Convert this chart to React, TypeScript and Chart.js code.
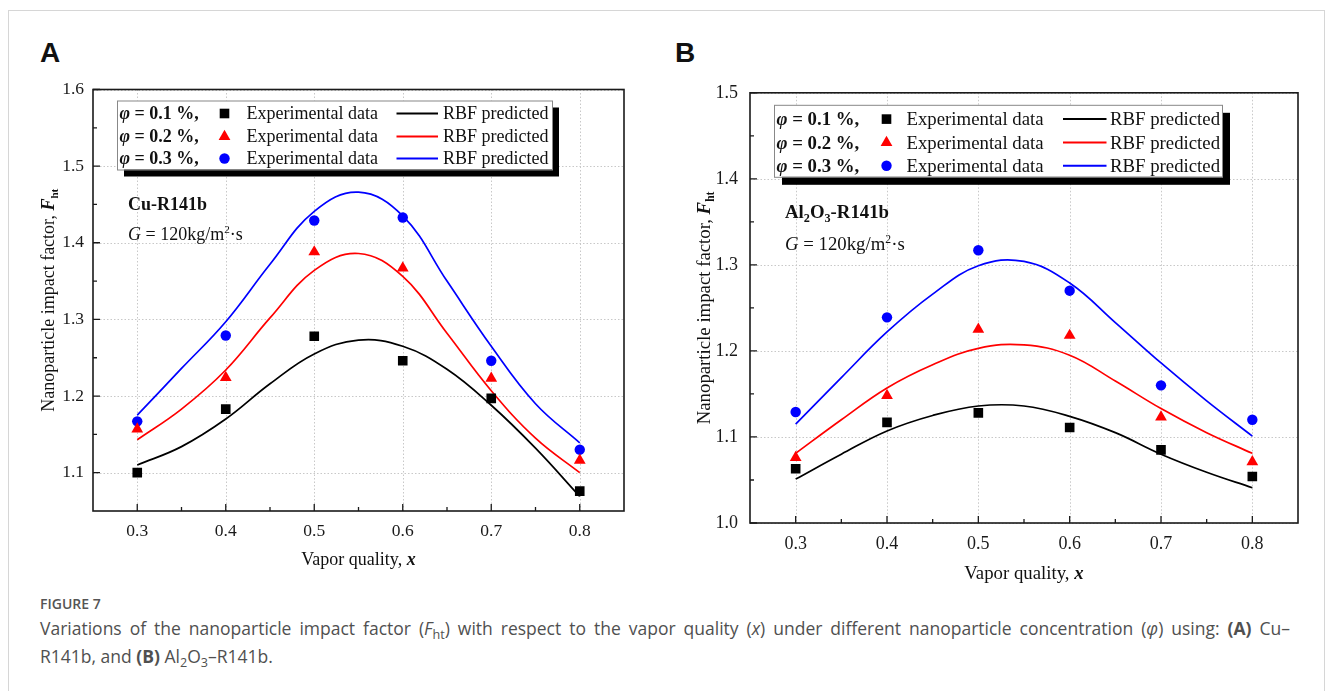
import React, { useEffect, useRef } from 'react';
import { Chart, registerables } from 'chart.js';

Chart.register(...registerables);

const SERIF = '"Liberation Serif", "Times New Roman", serif';

// ---------------- data ----------------
const expX = [0.3, 0.4, 0.5, 0.6, 0.7, 0.8];
const rbfX = [0.3, 0.35, 0.4, 0.45, 0.5, 0.55, 0.6, 0.65, 0.7, 0.75, 0.8];

const phiLabels = ['0.1', '0.2', '0.3'];
const seriesColors = ['#000000', '#ff0000', '#0000ff'];
const markerStyles = ['rect', 'triangle', 'circle'];
const markerRadius = [6.8, 6.8, 5.2];

// Panel A: Cu-R141b
const expA01 = [1.100, 1.183, 1.278, 1.246, 1.197, 1.076];
const expA02 = [1.157, 1.224, 1.388, 1.367, 1.223, 1.116];
const expA03 = [1.167, 1.279, 1.429, 1.433, 1.246, 1.130];
const rbfA01 = [1.110, 1.134, 1.170, 1.216, 1.255, 1.273, 1.265, 1.235, 1.188, 1.132, 1.069];
const rbfA02 = [1.143, 1.183, 1.234, 1.302, 1.364, 1.386, 1.356, 1.282, 1.207, 1.145, 1.100];
const rbfA03 = [1.175, 1.236, 1.297, 1.372, 1.441, 1.466, 1.435, 1.350, 1.265, 1.190, 1.139];

// Panel B: Al2O3-R141b
const expB01 = [1.063, 1.117, 1.128, 1.111, 1.085, 1.054];
const expB02 = [1.076, 1.148, 1.225, 1.218, 1.123, 1.071];
const expB03 = [1.129, 1.239, 1.317, 1.270, 1.160, 1.120];
const rbfB01 = [1.051, 1.080, 1.107, 1.125, 1.136, 1.136, 1.124, 1.105, 1.080, 1.059, 1.041];
const rbfB02 = [1.081, 1.120, 1.157, 1.184, 1.203, 1.207, 1.195, 1.165, 1.133, 1.105, 1.081];
const rbfB03 = [1.115, 1.169, 1.222, 1.266, 1.299, 1.304, 1.279, 1.233, 1.186, 1.142, 1.101];

// ticks
const xTickValues = [0.3, 0.4, 0.5, 0.6, 0.7, 0.8];
const xTickLabels = ['0.3', '0.4', '0.5', '0.6', '0.7', '0.8'];
const xMinorTicks = [0.35, 0.45, 0.55, 0.65, 0.75];
const yTicksA = [1.1, 1.2, 1.3, 1.4, 1.5, 1.6];
const yTickLabelsA = ['1.1', '1.2', '1.3', '1.4', '1.5', '1.6'];
const yMinorA = [1.15, 1.25, 1.35, 1.45, 1.55];
const yTicksB = [1.0, 1.1, 1.2, 1.3, 1.4, 1.5];
const yTickLabelsB = ['1.0', '1.1', '1.2', '1.3', '1.4', '1.5'];
const yMinorB = [1.05, 1.15, 1.25, 1.35, 1.45];

// ---------------- rich text helpers ----------------
type Seg = { t: string; f: string; dy?: number };

function richWidth(ctx: CanvasRenderingContext2D, segs: Seg[]) {
  let w = 0;
  for (const s of segs) {
    ctx.font = s.f;
    w += ctx.measureText(s.t).width;
  }
  return w;
}

function drawRich(ctx: CanvasRenderingContext2D, segs: Seg[], x: number, y: number, align = 'left') {
  const w = richWidth(ctx, segs);
  let cx = align === 'center' ? x - w / 2 : x;
  ctx.textBaseline = 'alphabetic';
  ctx.textAlign = 'left';
  for (const s of segs) {
    ctx.font = s.f;
    ctx.fillText(s.t, cx, y + (s.dy || 0));
    cx += ctx.measureText(s.t).width;
  }
}

function drawMarker(ctx: CanvasRenderingContext2D, style: string, x: number, y: number, r: number, color: string) {
  ctx.fillStyle = color;
  ctx.beginPath();
  if (style === 'rect') {
    const h = r * Math.SQRT1_2;
    ctx.rect(x - h, y - h, 2 * h, 2 * h);
  } else if (style === 'triangle') {
    for (let k = 0; k < 3; k++) {
      const a = (k * 2 * Math.PI) / 3;
      const px = x + Math.sin(a) * r;
      const py = y - Math.cos(a) * r;
      if (k === 0) ctx.moveTo(px, py);
      else ctx.lineTo(px, py);
    }
    ctx.closePath();
  } else {
    ctx.arc(x, y, r, 0, Math.PI * 2);
  }
  ctx.fill();
}

// ---------------- panels ----------------
type PanelCfg = {
  left: number; top: number; w: number; h: number;
  yAxisW: number; padRight: number; padTop: number; xAxisH: number;
  yMin: number; yMax: number; yTicks: number[]; yTickLabels: string[]; yMinor: number[];
  exp: number[][]; rbf: number[][];
  tickSize: number; xPad: number; yPad: number; fs: number;
  legend: { dx: number; dy: number; w: number; h: number; shadow: number; rows: number[]; phi: number; marker: number; expText: number; lineA: number; lineB: number; rbfText: number };
  fluid: (fs: number) => Seg[];
  fluidPos: [number, number];
  gPos: [number, number];
  yTitleDx: number;
  xTitleDy: number;
};

const panelA: PanelCfg = {
  left: 20, top: 70, w: 620, h: 510,
  yAxisW: 73, padRight: 16, padTop: 13, xAxisH: 69,
  yMin: 1.05, yMax: 1.6, yTicks: yTicksA, yTickLabels: yTickLabelsA, yMinor: yMinorA,
  exp: [expA01, expA02, expA03], rbf: [rbfA01, rbfA02, rbfA03],
  tickSize: 17.5, xPad: 10, yPad: 9, fs: 18,
  legend: { dx: 24, dy: 11, w: 435, h: 69, shadow: 7, rows: [13, 36, 58], phi: 2.5, marker: 107.5, expText: 129.5, lineA: 279.5, lineB: 321, rbfText: 326 },
  fluid: (fs) => [{ t: 'Cu-R141b', f: `bold ${fs}px ${SERIF}` }],
  fluidPos: [35, 120],
  gPos: [35, 150],
  yTitleDx: -45,
  xTitleDy: 54,
};

const panelB: PanelCfg = {
  left: 680, top: 70, w: 635, h: 522,
  yAxisW: 70, padRight: 17, padTop: 13, xAxisH: 69,
  yMin: 1.0, yMax: 1.5, yTicks: yTicksB, yTickLabels: yTickLabelsB, yMinor: yMinorB,
  exp: [expB01, expB02, expB03], rbf: [rbfB01, rbfB02, rbfB03],
  tickSize: 18, xPad: 10, yPad: 12, fs: 18.8,
  legend: { dx: 24, dy: 12, w: 448, h: 72, shadow: 8, rows: [14.3, 37.7, 61], phi: 2.5, marker: 112.5, expText: 132.5, lineA: 289, lineB: 332.5, rbfText: 336 },
  fluid: (fs) => [
    { t: 'Al', f: `bold ${fs}px ${SERIF}` },
    { t: '2', f: `bold ${fs * 0.65}px ${SERIF}`, dy: 4 },
    { t: 'O', f: `bold ${fs}px ${SERIF}` },
    { t: '3', f: `bold ${fs * 0.65}px ${SERIF}`, dy: 4 },
    { t: '-R141b', f: `bold ${fs}px ${SERIF}` },
  ],
  fluidPos: [35, 125],
  gPos: [35, 157],
  yTitleDx: -46,
  xTitleDy: 56,
};

function makeDecor(p: PanelCfg) {
  return {
    id: 'decor',
    beforeDatasetsDraw(chart: any) {
      const { ctx, chartArea: a, scales } = chart;
      const xs = scales.x;
      const ys = scales.y;
      ctx.save();
      ctx.strokeStyle = '#c8c8c8';
      ctx.lineWidth = 1;
      ctx.setLineDash([1.5, 2]);
      ctx.beginPath();
      for (const v of xTickValues) {
        const px = Math.round(xs.getPixelForValue(v)) + 0.5;
        ctx.moveTo(px, a.top);
        ctx.lineTo(px, a.bottom);
      }
      for (const v of p.yTicks) {
        const py = Math.round(ys.getPixelForValue(v)) + 0.5;
        ctx.moveTo(a.left, py);
        ctx.lineTo(a.right, py);
      }
      ctx.stroke();
      ctx.restore();
    },
    afterDatasetsDraw(chart: any) {
      const { ctx, chartArea: a, scales } = chart;
      const xs = scales.x;
      const ys = scales.y;
      const fs = p.fs;
      ctx.save();
      // frame
      ctx.strokeStyle = '#1a1a1a';
      ctx.lineWidth = 1.6;
      ctx.setLineDash([]);
      ctx.strokeRect(a.left, a.top, a.right - a.left, a.bottom - a.top);
      // inward ticks
      ctx.lineWidth = 1.3;
      ctx.beginPath();
      for (const v of xTickValues) {
        const px = xs.getPixelForValue(v);
        ctx.moveTo(px, a.bottom);
        ctx.lineTo(px, a.bottom - 7);
      }
      for (const v of xMinorTicks) {
        const px = xs.getPixelForValue(v);
        ctx.moveTo(px, a.bottom);
        ctx.lineTo(px, a.bottom - 4);
      }
      for (const v of p.yTicks) {
        const py = ys.getPixelForValue(v);
        ctx.moveTo(a.left, py);
        ctx.lineTo(a.left + 7, py);
      }
      for (const v of p.yMinor) {
        const py = ys.getPixelForValue(v);
        ctx.moveTo(a.left, py);
        ctx.lineTo(a.left + 4, py);
      }
      ctx.stroke();

      // legend
      const L = p.legend;
      const lx = a.left + L.dx;
      const ly = a.top + L.dy;
      ctx.fillStyle = '#000';
      ctx.fillRect(lx + L.shadow, ly + L.shadow, L.w, L.h);
      ctx.fillStyle = '#fff';
      ctx.fillRect(lx, ly, L.w, L.h);
      ctx.strokeStyle = '#888';
      ctx.lineWidth = 1;
      ctx.strokeRect(lx + 0.5, ly + 0.5, L.w, L.h);
      for (let i = 0; i < 3; i++) {
        const cy = ly + L.rows[i];
        const base = cy + fs * 0.33;
        ctx.fillStyle = '#111';
        drawRich(ctx, [
          { t: 'φ', f: `italic bold ${fs}px ${SERIF}` },
          { t: ` = ${phiLabels[i]} %,`, f: `bold ${fs}px ${SERIF}` },
        ], lx + L.phi, base);
        drawMarker(ctx, markerStyles[i], lx + L.marker, cy, markerRadius[i], seriesColors[i]);
        ctx.fillStyle = '#111';
        drawRich(ctx, [{ t: 'Experimental data', f: `${fs}px ${SERIF}` }], lx + L.expText, base);
        ctx.strokeStyle = seriesColors[i];
        ctx.lineWidth = 2;
        ctx.beginPath();
        ctx.moveTo(lx + L.lineA, cy);
        ctx.lineTo(lx + L.lineB, cy);
        ctx.stroke();
        ctx.fillStyle = '#111';
        drawRich(ctx, [{ t: 'RBF predicted', f: `${fs}px ${SERIF}` }], lx + L.rbfText, base);
      }

      // annotations
      ctx.fillStyle = '#111';
      drawRich(ctx, p.fluid(fs), a.left + p.fluidPos[0], a.top + p.fluidPos[1]);
      drawRich(ctx, [
        { t: 'G', f: `italic ${fs}px ${SERIF}` },
        { t: ' = 120kg/m', f: `${fs}px ${SERIF}` },
        { t: '2', f: `${fs * 0.62}px ${SERIF}`, dy: -7 },
        { t: '·s', f: `${fs}px ${SERIF}` },
      ], a.left + p.gPos[0], a.top + p.gPos[1]);

      // x title
      drawRich(ctx, [
        { t: 'Vapor quality, ', f: `${fs}px ${SERIF}` },
        { t: 'x', f: `italic bold ${fs}px ${SERIF}` },
      ], (a.left + a.right) / 2, a.bottom + p.xTitleDy, 'center');

      // y title (rotated)
      ctx.translate(a.left + p.yTitleDx, (a.top + a.bottom) / 2);
      ctx.rotate(-Math.PI / 2);
      drawRich(ctx, [
        { t: 'Nanoparticle impact factor, ', f: `${fs}px ${SERIF}` },
        { t: 'F', f: `italic bold ${fs}px ${SERIF}` },
        { t: 'ht', f: `bold ${fs * 0.62}px ${SERIF}`, dy: 4 },
      ], 0, fs * 0.33, 'center');
      ctx.restore();
    },
  };
}

function ChartPanel({ p }: { p: PanelCfg }) {
  const ref = useRef<HTMLCanvasElement>(null);
  useEffect(() => {
    const scatterSets = p.exp.map((arr, i) => ({
      label: `exp ${phiLabels[i]}`,
      data: expX.map((x, k) => ({ x, y: arr[k] })),
      showLine: false,
      pointStyle: markerStyles[i] as any,
      pointRadius: markerRadius[i],
      pointBackgroundColor: seriesColors[i],
      pointBorderColor: seriesColors[i],
      pointBorderWidth: 0,
    }));
    const lineSets = p.rbf.map((arr, i) => ({
      label: `rbf ${phiLabels[i]}`,
      data: rbfX.map((x, k) => ({ x, y: arr[k] })),
      showLine: true,
      borderColor: seriesColors[i],
      borderWidth: 1.7,
      pointRadius: 0,
      tension: 0.4,
    }));
    const chart = new Chart(ref.current as HTMLCanvasElement, {
      type: 'scatter',
      data: { datasets: [...scatterSets, ...lineSets] as any },
      options: {
        responsive: false,
        animation: false,
        events: [],
        layout: { padding: { top: p.padTop, right: p.padRight, left: 0, bottom: 0 } },
        plugins: { legend: { display: false }, tooltip: { enabled: false } },
        scales: {
          x: {
            type: 'linear',
            min: 0.25,
            max: 0.85,
            grid: { display: false, drawTicks: false },
            border: { display: false },
            afterBuildTicks: (s: any) => { s.ticks = xTickValues.map((v) => ({ value: v })); },
            afterFit: (s: any) => { s.height = p.xAxisH; },
            ticks: {
              autoSkip: false,
              maxRotation: 0,
              padding: p.xPad,
              color: '#1a1a1a',
              font: { family: SERIF, size: p.tickSize },
              callback: (v: any) => xTickLabels[xTickValues.indexOf(Number(v))] ?? '',
            },
          },
          y: {
            type: 'linear',
            min: p.yMin,
            max: p.yMax,
            grid: { display: false, drawTicks: false },
            border: { display: false },
            afterBuildTicks: (s: any) => { s.ticks = p.yTicks.map((v) => ({ value: v })); },
            afterFit: (s: any) => { s.width = p.yAxisW; },
            ticks: {
              autoSkip: false,
              padding: p.yPad,
              color: '#1a1a1a',
              font: { family: SERIF, size: p.tickSize },
              callback: (v: any) => {
                const idx = p.yTicks.findIndex((t) => Math.abs(t - Number(v)) < 1e-6);
                return idx >= 0 ? p.yTickLabels[idx] : '';
              },
            },
          },
        },
      } as any,
      plugins: [makeDecor(p) as any],
    });
    return () => chart.destroy();
  }, []);
  return (
    <canvas
      ref={ref}
      width={p.w}
      height={p.h}
      style={{ position: 'absolute', left: p.left, top: p.top, width: p.w, height: p.h }}
    />
  );
}

const subStyle: React.CSSProperties = { fontSize: '0.72em', verticalAlign: '-0.28em', lineHeight: 0 };
const capFont = '17.5px "Open Sans", sans-serif';

export default function App() {
  return (
    <div style={{ position: 'absolute', left: 0, top: 0, width: 1333, height: 691, overflow: 'hidden', background: '#fff' }}>
      <div style={{ position: 'absolute', left: 8, top: 10, width: 1317, height: 720, border: '1px solid #d6d6d6', boxSizing: 'border-box' }} />
      <div style={{ position: 'absolute', left: 40, top: 39, font: 'bold 28px "Liberation Sans", Arial, sans-serif', lineHeight: '28px', color: '#111' }}>A</div>
      <div style={{ position: 'absolute', left: 675, top: 39, font: 'bold 28px "Liberation Sans", Arial, sans-serif', lineHeight: '28px', color: '#111' }}>B</div>
      <ChartPanel p={panelA} />
      <ChartPanel p={panelB} />
      <div style={{ position: 'absolute', left: 40, top: 596, font: '600 14px "Open Sans", sans-serif', color: '#555', lineHeight: '16px' }}>FIGURE 7</div>
      <div style={{ position: 'absolute', left: 40, top: 614, width: 1250, font: capFont, color: '#505050', lineHeight: '28px', whiteSpace: 'nowrap' }}>
        <div style={{ textAlign: 'justify', textAlignLast: 'justify' }}>
          Variations of the nanoparticle impact factor (<i>F</i><span style={subStyle}>ht</span>) with respect to the vapor quality (<i>x</i>) under different nanoparticle concentration (<i>φ</i>) using: <b>(A)</b> Cu–
        </div>
        <div>
          R141b, and <b>(B)</b> Al<span style={subStyle}>2</span>O<span style={subStyle}>3</span>–R141b.
        </div>
      </div>
    </div>
  );
}
